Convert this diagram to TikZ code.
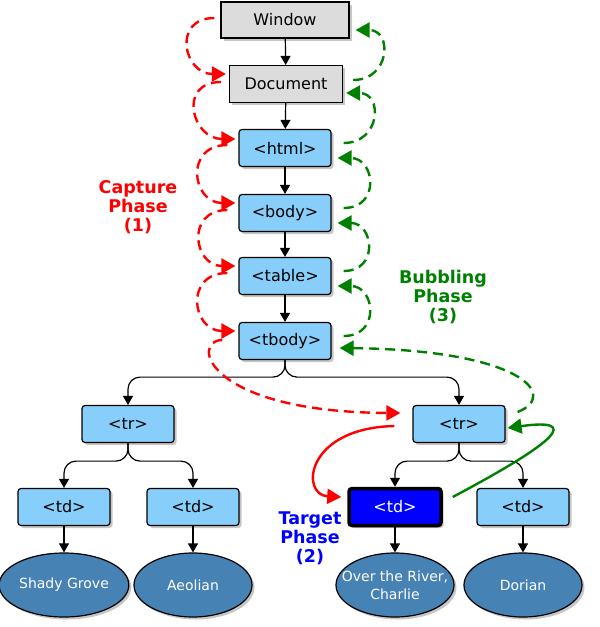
\documentclass[tikz,border=0pt]{standalone}
\usepackage{fontspec}
\setmainfont{DejaVu Sans}
\usetikzlibrary{arrows.meta,shapes.geometric,shadows}
\definecolor{bleuclair}{HTML}{87CEFA}
\definecolor{grisclair}{HTML}{DCDCDC}
\definecolor{bleuacier}{HTML}{4682B4}
\definecolor{vert}{HTML}{008000}
\begin{document}
\begin{tikzpicture}[x=1pt,y=-1pt]
    \tikzstyle{ombre}=[drop shadow={shadow xshift=2.5pt,shadow yshift=-2.5pt,opacity=0.45}]
    \tikzstyle{noeud}=[draw,line width=1.2pt,rounded corners=3pt,fill=bleuclair,minimum width=92pt,minimum height=37pt,font=\fontsize{16}{19}\selectfont,ombre]
    \tikzstyle{gris}=[noeud,fill=grisclair,rounded corners=0pt]
    \tikzstyle{cible}=[noeud,fill=blue,text=white,line width=3.5pt]
    \tikzstyle{feuille}=[ellipse,draw,line width=1.2pt,fill=bleuacier,text=white,minimum width=118pt,minimum height=64pt,inner sep=1pt,align=center,font=\fontsize{14}{18}\selectfont,ombre]
    \tikzstyle{lien}=[-{Triangle[length=9pt,width=10pt]},line width=1.2pt]
    \tikzstyle{capture}=[-{Triangle[length=14pt,width=15pt]},line width=2.4pt,red,dash pattern=on 10pt off 6pt]
    \tikzstyle{bulle}=[capture,vert]
    \tikzstyle{phase}=[font=\fontsize{17.5}{19}\selectfont\bfseries,align=center]
    \useasboundingbox (0,0) rectangle (600,627);
    % les noeuds
    \node[gris,minimum width=128pt,minimum height=36pt] (window) at (285,20) {Window};
    \node[gris,minimum width=113pt] (document) at (286,84) {Document};
    \node[noeud] (html) at (285,148) {<html>};
    \node[noeud] (body) at (285,213) {<body>};
    \node[noeud] (table) at (285,276) {<table>};
    \node[noeud] (tbody) at (285,341) {<tbody>};
    \node[noeud] (trA) at (128,424) {<tr>};
    \node[noeud] (trB) at (459,424) {<tr>};
    \node[noeud] (tdA) at (64,507) {<td>};
    \node[noeud] (tdB) at (193,507) {<td>};
    \node[cible] (tdC) at (395,507) {<td>};
    \node[noeud] (tdD) at (523,507) {<td>};
    \node[feuille] (shady) at (64,585) {Shady Grove};
    \node[feuille] (aeolian) at (193,585) {Aeolian};
    \node[feuille,inner xsep=-14pt] (river) at (395,585) {Over the River,\\Charlie};
    \node[feuille] (dorian) at (523,585) {Dorian};
    % l'arbre
    \draw[lien] (window) -- (document);
    \draw[lien] (document) -- (html);
    \draw[lien] (html) -- (body);
    \draw[lien] (body) -- (table);
    \draw[lien] (table) -- (tbody);
    \draw[lien,rounded corners=12pt] (tbody.south) -- ++(0,17) -| (trA.north);
    \draw[lien,rounded corners=12pt] (tbody.south) -- ++(0,17) -| (trB.north);
    \draw[lien,rounded corners=12pt] (trA.south) -- ++(0,18) -| (tdA.north);
    \draw[lien,rounded corners=12pt] (trA.south) -- ++(0,18) -| (tdB.north);
    \draw[lien,rounded corners=12pt] (trB.south) -- ++(0,18) -| (tdC.north);
    \draw[lien,rounded corners=12pt] (trB.south) -- ++(0,18) -| (tdD.north);
    \draw[lien] (tdA) -- (shady);
    \draw[lien] (tdB) -- (aeolian);
    \draw[lien] (tdC) -- (river);
    \draw[lien] (tdD) -- (dorian);
    % phase de capture
    \draw[capture] ([shift={(-6,-2)}]window.west) to[out=180,in=180,looseness=1.9] ([shift={(-3,-10)}]document.west);
    \draw[capture] ([shift={(-8,-2)}]document.west) to[out=180,in=180,looseness=1.9] ([shift={(-3,-9)}]html.west);
    \draw[capture] ([shift={(-11,-3)}]html.west) to[out=180,in=180,looseness=1.9] ([shift={(-3,-10)}]body.west);
    \draw[capture] ([shift={(-11,-3)}]body.west) to[out=180,in=180,looseness=1.9] ([shift={(-3,-10)}]table.west);
    \draw[capture] ([shift={(-11,-3)}]table.west) to[out=180,in=180,looseness=1.9] ([shift={(-3,-10)}]tbody.west);
    \draw[capture] ([shift={(-16,-1)}]tbody.west) .. controls (190,340) and (205,412) .. ([shift={(-12,-11)}]trB.west);
    \draw[capture,solid] ([shift={(-18,2)}]trB.west) .. controls (305,428) and (300,495) .. ([shift={(-6,-10)}]tdC.west);
    % phase de bouillonnement
    \draw[bulle] ([shift={(10,-4)}]document.east) to[out=0,in=0,looseness=1.9] ([shift={(6,10)}]window.east);
    \draw[bulle] ([shift={(12,-5)}]html.east) to[out=0,in=0,looseness=1.9] ([shift={(3,9)}]document.east);
    \draw[bulle] ([shift={(12,-5)}]body.east) to[out=0,in=0,looseness=1.9] ([shift={(6,10)}]html.east);
    \draw[bulle] ([shift={(12,-5)}]table.east) to[out=0,in=0,looseness=1.9] ([shift={(6,10)}]body.east);
    \draw[bulle] ([shift={(12,-5)}]tbody.east) to[out=0,in=0,looseness=1.9] ([shift={(6,10)}]table.east);
    \draw[bulle] ([shift={(12,-12)}]trB.east) .. controls (560,395) and (520,350) .. ([shift={(8,7)}]tbody.east);
    \draw[bulle,solid] ([shift={(10,-10)}]tdC.east) .. controls (560,440) and (580,418) .. ([shift={(2,4)}]trB.east);
    % les etiquettes
    \node[phase,text=red] (lblcapture) at (138,207) {Capture\\Phase\\(1)};
    \node[phase,text=vert] (lblbulle) at (443,297) {Bubbling\\Phase\\(3)};
    \node[phase,text=blue] (lblcible) at (310,538) {Target\\Phase\\(2)};
\end{tikzpicture}
\end{document}
